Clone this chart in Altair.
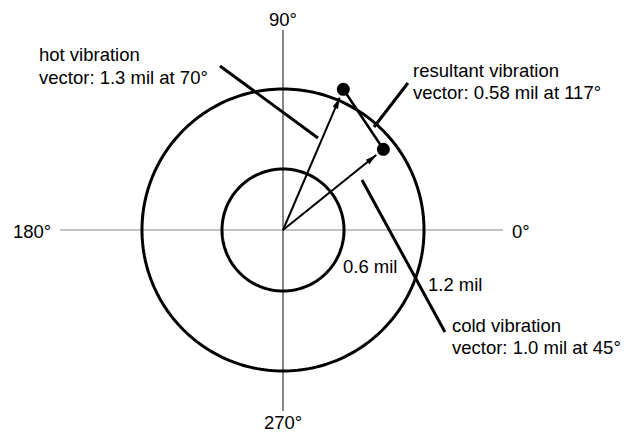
import math
import numpy as np
import pandas as pd
import altair as alt

# ---- values (diagram units: 0.6 mil inner ring scale) ----
ring_names = ["inner", "outer"]
ring_radius = [0.6, 1.387]            # drawn radii

vec_names = ["hot", "cold"]
vec_mag = [1.506, 1.267]              # drawn magnitude of vector tips
vec_deg = [66.8, 38.8]                # drawn angle (deg, CCW from 0°)

axis_h = [-2.193, 2.164]              # horizontal reference line extent
axis_v = [-1.780, 1.967]              # vertical reference line extent

# leader lines (x, y, x2, y2)
leader_x = [-0.620, 1.229, 0.777]
leader_y = [1.613, 1.446, 0.492]
leader_x2 = [0.344, 0.895, 1.593]
leader_y2 = [0.905, 1.013, -1.003]

# left-aligned labels
label_text = ["hot vibration", "vector: 1.3 mil at 70°",
              "resultant vibration", "vector: 0.58 mil at 117°",
              "cold vibration", "vector: 1.0 mil at 45°",
              "0.6 mil", "1.2 mil", "180°", "0°"]
label_x = [-2.400, -2.400, 1.279, 1.279, 1.662, 1.662, 0.590, 1.426, -2.656, 2.252]
label_y = [1.662, 1.436, 1.505, 1.289, -1.003, -1.220, -0.423, -0.600, -0.079, -0.079]

# centred labels
clabel_text = ["90°", "270°"]
clabel_x = [0.0, 0.0]
clabel_y = [2.007, -1.957]

# ---- layout ----
W, H = 615, 426
K = 61 / 0.6                 # px per diagram unit
CX, CY = 275, 222            # centre in chart pixels
xs = alt.Scale(domain=[-CX / K, (W - CX) / K], nice=False, zero=False)
ys = alt.Scale(domain=[-(H - CY) / K, CY / K], nice=False, zero=False)

def X(f, **kw):
    return alt.X(f, type="quantitative", scale=xs, axis=None, **kw)

def Y(f, **kw):
    return alt.Y(f, type="quantitative", scale=ys, axis=None, **kw)

# reference axes
h_df = pd.DataFrame({"x": [axis_h[0]], "x2": [axis_h[1]], "y": [0.0], "y2": [0.0]})
v_df = pd.DataFrame({"x": [0.0], "x2": [0.0], "y": [axis_v[0]], "y2": [axis_v[1]]})
h_rule = alt.Chart(h_df).mark_rule(color="#8a8a8a", strokeWidth=1.2).encode(
    x=X("x"), x2="x2", y=Y("y"), y2="y2")
v_rule = alt.Chart(v_df).mark_rule(color="#111111", strokeWidth=1).encode(
    x=X("x"), x2="x2", y=Y("y"), y2="y2")

# rings
t = np.linspace(0, 2 * np.pi, 241)
rows = []
for name, r in zip(ring_names, ring_radius):
    for i, a in enumerate(t):
        rows.append({"ring": name, "i": i, "x": r * np.cos(a), "y": r * np.sin(a)})
ring_df = pd.DataFrame(rows)
rings = alt.Chart(ring_df).mark_line(color="black", strokeWidth=3).encode(
    x=X("x"), y=Y("y"), detail="ring:N", order="i:Q")

# vectors
tip_gap = 0.09
vx = [m * math.cos(math.radians(d)) for m, d in zip(vec_mag, vec_deg)]
vy = [m * math.sin(math.radians(d)) for m, d in zip(vec_mag, vec_deg)]
ax = [(m - tip_gap) * math.cos(math.radians(d)) for m, d in zip(vec_mag, vec_deg)]
ay = [(m - tip_gap) * math.sin(math.radians(d)) for m, d in zip(vec_mag, vec_deg)]
vec_df = pd.DataFrame({"name": vec_names, "x0": 0.0, "y0": 0.0,
                       "x": vx, "y": vy, "ax": ax, "ay": ay,
                       "rot": [90 - d for d in vec_deg]})
shafts = alt.Chart(vec_df).mark_rule(color="black", strokeWidth=2).encode(
    x=X("x0"), y=Y("y0"), x2="ax", y2="ay")
heads = alt.Chart(vec_df).mark_point(
    shape="M0,0L0.42,1.6L-0.42,1.6Z", filled=True, opacity=1, color="black",
    size=190, strokeWidth=0).encode(
    x=X("ax"), y=Y("ay"), angle=alt.Angle("rot:Q", scale=None))
dots = alt.Chart(vec_df).mark_circle(color="black", opacity=1, size=170).encode(
    x=X("x"), y=Y("y"))

res_df = pd.DataFrame({"x": [vx[0]], "y": [vy[0]], "x2": [vx[1]], "y2": [vy[1]]})
resultant = alt.Chart(res_df).mark_rule(color="black", strokeWidth=2.5).encode(
    x=X("x"), y=Y("y"), x2="x2", y2="y2")

lead_df = pd.DataFrame({"x": leader_x, "y": leader_y, "x2": leader_x2, "y2": leader_y2})
leaders = alt.Chart(lead_df).mark_rule(color="black", strokeWidth=3).encode(
    x=X("x"), y=Y("y"), x2="x2", y2="y2")

FONT = "Liberation Sans"
lab_df = pd.DataFrame({"t": label_text, "x": label_x, "y": label_y})
labels = alt.Chart(lab_df).mark_text(
    align="left", baseline="alphabetic", font=FONT, fontSize=18.5, color="black").encode(
    x=X("x"), y=Y("y"), text="t:N")
clab_df = pd.DataFrame({"t": clabel_text, "x": clabel_x, "y": clabel_y})
clabels = alt.Chart(clab_df).mark_text(
    align="center", baseline="alphabetic", font=FONT, fontSize=18.5, color="black").encode(
    x=X("x"), y=Y("y"), text="t:N")

chart = alt.layer(
    h_rule, v_rule, rings, leaders, shafts, heads, resultant, dots, labels, clabels
).properties(
    width=W, height=H, padding=0, autosize=alt.AutoSizeParams(type="none"),
    background="white"
).configure_view(stroke=None)

chart.save("out.html", embed_options={"renderer": "svg", "actions": False})
